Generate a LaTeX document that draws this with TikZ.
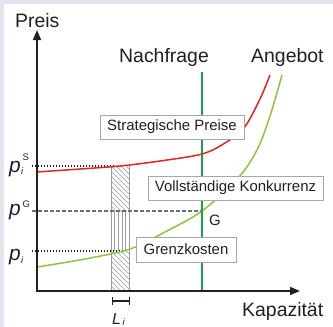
\documentclass[tikz,border=0pt]{standalone}
\usepackage{fontspec}
\setmainfont{Liberation Sans}
\usetikzlibrary{arrows.meta}
\definecolor{bord}{HTML}{E4E4EE}
\definecolor{ink}{HTML}{231F20}
\definecolor{redc}{HTML}{E52421}
\definecolor{limec}{HTML}{8CC63E}
\definecolor{nachc}{HTML}{1A9E48}
\definecolor{dashc}{HTML}{6A6A8A}
\definecolor{hatchc}{HTML}{9A9A9A}
\definecolor{boxc}{HTML}{A8A8A8}
\begin{document}
\begin{tikzpicture}[x=1bp,y=-1bp,
  big/.style={font=\fontsize{19.5}{22}\selectfont, text=ink, inner sep=0pt},
  boxlbl/.style={draw=boxc, line width=0.8bp, fill=white, font=\fontsize{15}{17}\selectfont, text=ink, inner sep=0pt, minimum height=24bp},
  axisline/.style={line width=1.6bp, draw=ink, {Triangle[length=10bp,width=8bp]}-{Triangle[length=10bp,width=8bp]}},
  hatch/.style={draw=hatchc, line width=0.5bp},
  plab/.style={font=\fontsize{21}{23}\selectfont\itshape, text=ink, inner sep=0pt},
  supl/.style={font=\fontsize{9.5}{10}\selectfont, text=ink, inner sep=0pt},
  subl/.style={font=\fontsize{9.5}{10}\selectfont\itshape, text=ink, inner sep=0pt},
  dotl/.style={line width=1.1bp, draw=ink, dash pattern=on 1.1bp off 1.9bp},
  dashl/.style={line width=1.2bp, draw=dashc, dash pattern=on 4bp off 2bp},
  curve/.style={line width=1.5bp}
]
\fill[bord] (0,0) rectangle (333,327);
\fill[white] (4,4) rectangle (333,327);
\useasboundingbox (0,0) rectangle (333,327);

% hatched rectangle
\begin{scope}
  \clip (111,166) rectangle (129,211);
  \foreach \x in {40,45,...,140} \draw[hatch] (\x,150) -- ++(80,80);
\end{scope}
\begin{scope}
  \clip (111,251) rectangle (129,291);
  \foreach \x in {60,65,...,180} \draw[hatch] (\x,300) -- ++(-70,-70);
\end{scope}
\foreach \x in {114.6,118.2,121.8,125.4} \draw[hatch] (\x,211) -- (\x,251);
\draw[hatch] (111,166) -- (111,291);
\draw[hatch] (129,166) -- (129,291);

% reference lines
\coordinate (pS0) at (32,166); \coordinate (pS1) at (116,166);
\coordinate (pG0) at (32,211); \coordinate (G) at (202,211);
\coordinate (pi0) at (32,251); \coordinate (pi1) at (125,251);
\draw[dotl] (pS0) -- (pS1);
\draw[dotl] (pi0) -- (pi1);
\draw[dashl] (pG0) -- (G);

% curves
\draw[redc, curve] plot[smooth, tension=0.55] coordinates {(37,172) (80,169) (120,166) (160,161) (202,154) (225,143) (244,128) (260,99) (270,75)};
\draw[limec, curve] plot[smooth, tension=0.55] coordinates {(37,267) (85,259) (130,249) (165,232) (202,211) (238,178) (257,150) (270,116) (282,75)};

% Nachfrage line
\coordinate (N1) at (202,72); \coordinate (N0) at (202,291);
\draw[nachc, curve] (N1) -- (N0);

% axes
\coordinate (Ytip) at (37,30);
\coordinate (O) at (37,291);
\coordinate (Xtip) at (300,291);
\draw[axisline] (Ytip) -- (O) -- (Xtip);

% bracket L_i
\coordinate (L0) at (112,301); \coordinate (L1) at (130,301);
\draw[line width=1.4bp, draw=ink, {Bar[width=8bp]}-{Bar[width=8bp]}] (L0) -- (L1);

% boxes
\node[boxlbl, minimum width=144bp] (sp) at (172,127) {Strategische Preise};
\node[boxlbl, minimum width=175bp] (vk) at (235.5,188) {Vollständige Konkurrenz};
\node[boxlbl, minimum width=100bp, minimum height=25bp] (gk) at (186,249.5) {Grenzkosten};

% big labels
\node[big, anchor=base west] (preis) at (15,27) {Preis};
\node[big, anchor=base west] (nach) at (119,62) {Nachfrage};
\node[big, anchor=base west] (ang) at (251,62) {Angebot};
\node[big, anchor=base west] (kap) at (242,316) {Kapazität};
\node[font=\fontsize{15}{17}\selectfont, text=ink, inner sep=0pt, anchor=base west] (gl) at (209,225) {G};

% p labels
\node[plab, anchor=base west] (pS) at (9,172) {p};
\node[supl, anchor=base west] (pSs) at (22.5,160) {S};
\node[subl, anchor=base west] (pSi) at (21,174) {i};
\node[plab, anchor=base west] (pG) at (9,215) {p};
\node[supl, anchor=base west] (pGs) at (22.5,207) {G};
\node[plab, anchor=base west] (pI) at (9,260) {p};
\node[subl, anchor=base west] (pIi) at (21,263) {i};
\node[font=\fontsize{16}{18}\selectfont\itshape, text=ink, inner sep=0pt, anchor=base west] (Lt) at (112,324) {L};
\node[subl, anchor=base west] (Lti) at (122.5,325) {i};
\end{tikzpicture}
\end{document}
